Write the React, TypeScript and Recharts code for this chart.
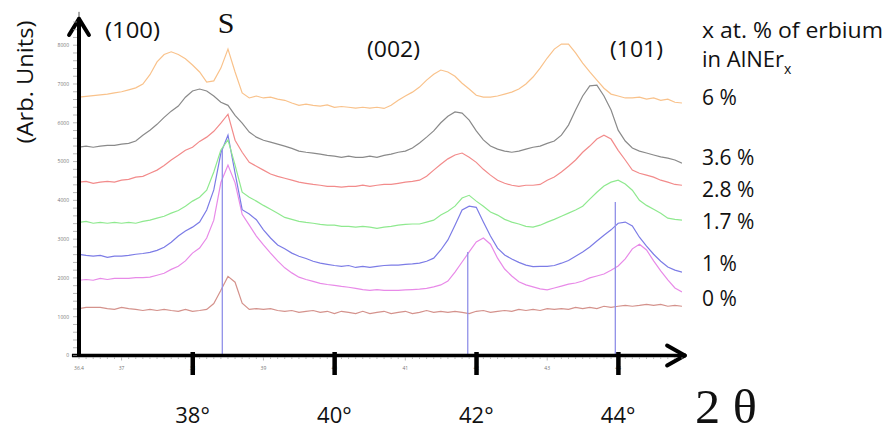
import React from 'react'
import { LineChart, Line, XAxis, YAxis, ReferenceLine } from 'recharts'

// 2θ positions (degrees) sampled every 0.1°
const TWO_THETA = [
  36.4, 36.5, 36.6, 36.7, 36.8, 36.9, 37.0, 37.1, 37.2, 37.3,
  37.4, 37.5, 37.6, 37.7, 37.8, 37.9, 38.0, 38.1, 38.2, 38.3,
  38.4, 38.5, 38.6, 38.7, 38.8, 38.9, 39.0, 39.1, 39.2, 39.3,
  39.4, 39.5, 39.6, 39.7, 39.8, 39.9, 40.0, 40.1, 40.2, 40.3,
  40.4, 40.5, 40.6, 40.7, 40.8, 40.9, 41.0, 41.1, 41.2, 41.3,
  41.4, 41.5, 41.6, 41.7, 41.8, 41.9, 42.0, 42.1, 42.2, 42.3,
  42.4, 42.5, 42.6, 42.7, 42.8, 42.9, 43.0, 43.1, 43.2, 43.3,
  43.4, 43.5, 43.6, 43.7, 43.8, 43.9, 44.0, 44.1, 44.2, 44.3,
  44.4, 44.5, 44.6, 44.7, 44.8, 44.9,
]

// intensities (arb. units), offset per sample as in the original plot
const ER_6 = [
  6660, 6680, 6700, 6720, 6740, 6770, 6800, 6850, 6900, 7000,
  7240, 7570, 7760, 7830, 7760, 7650, 7490, 7310, 7050, 7080,
  7410, 7900, 7310, 6770, 6640, 6690, 6640, 6660, 6610, 6580,
  6510, 6450, 6480, 6450, 6430, 6460, 6400, 6420, 6400, 6380,
  6400, 6380, 6400, 6370, 6450, 6580, 6690, 6790, 6920, 7100,
  7250, 7360, 7310, 7200, 7020, 6870, 6710, 6660, 6660, 6690,
  6740, 6790, 6870, 7000, 7180, 7410, 7670, 7900, 8030, 8030,
  7800, 7540, 7310, 7100, 6890, 6740, 6690, 6640, 6640, 6660,
  6610, 6640, 6580, 6610, 6530, 6510,
]

const ER_3_6 = [
  5370, 5400, 5370, 5400, 5420, 5420, 5450, 5470, 5530, 5680,
  5810, 5960, 6140, 6300, 6430, 6660, 6820, 6870, 6820, 6690,
  6530, 6450, 6190, 5990, 5760, 5630, 5550, 5500, 5450, 5400,
  5340, 5270, 5240, 5220, 5190, 5160, 5140, 5110, 5140, 5110,
  5110, 5140, 5110, 5160, 5190, 5240, 5270, 5350, 5480, 5630,
  5790, 6000, 6170, 6280, 6250, 6070, 5790, 5560, 5400, 5320,
  5270, 5240, 5270, 5320, 5370, 5400, 5470, 5530, 5680, 5940,
  6330, 6690, 6950, 6970, 6690, 6330, 5810, 5530, 5350, 5270,
  5220, 5170, 5120, 5090, 5040, 4960,
]

const ER_2_8 = [
  4470, 4490, 4440, 4470, 4490, 4470, 4520, 4540, 4600, 4620,
  4700, 4780, 4900, 5040, 5160, 5290, 5370, 5520, 5630, 5780,
  5990, 6220, 5550, 5240, 4980, 4880, 4780, 4680, 4620, 4570,
  4520, 4470, 4440, 4410, 4390, 4360, 4360, 4340, 4360, 4360,
  4390, 4360, 4390, 4410, 4410, 4440, 4470, 4490, 4520, 4620,
  4780, 4930, 5070, 5170, 5220, 5110, 4980, 4800, 4650, 4520,
  4440, 4390, 4360, 4390, 4390, 4410, 4520, 4600, 4730, 4880,
  5040, 5240, 5400, 5580, 5680, 5580, 5290, 5040, 4780, 4700,
  4650, 4600, 4520, 4470, 4410, 4390,
]

const ER_1_7 = [
  3430, 3460, 3410, 3430, 3410, 3430, 3410, 3430, 3410, 3460,
  3490, 3540, 3590, 3670, 3740, 3850, 3980, 4080, 4260, 4730,
  5300, 5560, 4910, 4210, 4080, 3980, 3870, 3770, 3670, 3560,
  3510, 3460, 3430, 3410, 3380, 3360, 3360, 3330, 3330, 3310,
  3330, 3310, 3280, 3310, 3330, 3360, 3380, 3390, 3390, 3440,
  3490, 3620, 3720, 3850, 4060, 4130, 3980, 3850, 3700, 3620,
  3510, 3440, 3390, 3330, 3310, 3360, 3440, 3510, 3590, 3670,
  3750, 3850, 4030, 4210, 4370, 4470, 4520, 4420, 4260, 4000,
  3870, 3770, 3670, 3540, 3510, 3490,
]

const ER_1 = [
  2610, 2580, 2560, 2580, 2530, 2560, 2560, 2580, 2610, 2630,
  2660, 2710, 2790, 2920, 3080, 3210, 3310, 3440, 3750, 4270,
  5220, 5680, 4700, 3760, 3650, 3500, 3240, 3030, 2850, 2750,
  2640, 2560, 2500, 2430, 2380, 2350, 2320, 2300, 2320, 2270,
  2300, 2270, 2300, 2320, 2330, 2330, 2350, 2360, 2380, 2430,
  2510, 2720, 2980, 3360, 3750, 3850, 3820, 3440, 3080, 2770,
  2590, 2490, 2400, 2330, 2290, 2300, 2300, 2320, 2380, 2450,
  2560, 2670, 2800, 2950, 3100, 3240, 3410, 3440, 3340, 3050,
  2820, 2610, 2430, 2280, 2200, 2150,
]

const ER_0 = [
  1940, 1960, 1940, 1990, 1960, 1990, 1990, 1990, 2010, 2010,
  2020, 2070, 2120, 2220, 2300, 2440, 2640, 2770, 3030, 3490,
  4460, 4910, 4450, 3640, 3360, 3080, 2850, 2640, 2440, 2260,
  2130, 2020, 1960, 1910, 1860, 1830, 1810, 1780, 1760, 1730,
  1700, 1680, 1700, 1680, 1680, 1680, 1690, 1700, 1710, 1730,
  1770, 1820, 1920, 2150, 2410, 2670, 2930, 3030, 2870, 2510,
  2230, 2050, 1900, 1820, 1770, 1720, 1690, 1740, 1790, 1840,
  1870, 1920, 2000, 2050, 2100, 2200, 2310, 2490, 2750, 2870,
  2720, 2440, 2180, 1950, 1740, 1640,
]

const SUBSTRATE = [
  1210, 1240, 1240, 1240, 1210, 1190, 1240, 1210, 1190, 1160,
  1190, 1160, 1190, 1160, 1140, 1190, 1140, 1160, 1190, 1340,
  1680, 2040, 1890, 1350, 1190, 1210, 1190, 1210, 1160, 1140,
  1160, 1110, 1140, 1160, 1110, 1140, 1080, 1140, 1110, 1080,
  1140, 1080, 1110, 1140, 1080, 1110, 1140, 1080, 1110, 1160,
  1110, 1140, 1110, 1140, 1110, 1080, 1140, 1160, 1110, 1140,
  1160, 1140, 1190, 1160, 1190, 1160, 1210, 1190, 1210, 1190,
  1240, 1210, 1240, 1210, 1270, 1240, 1270, 1290, 1270, 1290,
  1320, 1290, 1320, 1270, 1290, 1270,
]

const SMALL_X_LABELS = [36.4, 37, 38, 39, 40, 41, 42, 43, 44]
const BIG_X_TICKS = [38, 40, 42, 44]
const Y_TICKS = [
  0, 200, 400, 600, 800, 1000, 1200, 1400, 1600, 1800, 2000, 2200, 2400, 2600, 2800,
  3000, 3200, 3400, 3600, 3800, 4000, 4200, 4400, 4600, 4800, 5000, 5200, 5400, 5600,
  5800, 6000, 6200, 6400, 6600, 6800, 7000, 7200, 7400, 7600, 7800, 8000, 8200, 8400, 8600,
]
const Y_LABELS = [0, 1000, 2000, 3000, 4000, 5000, 6000, 7000, 8000]

// peak marker lines: [2θ, top intensity]
const MARKERS: [number, number][] = [
  [38.42, 5300],
  [41.88, 2670],
  [43.96, 3960],
]

const SERIES = [
  { key: 'sub', values: SUBSTRATE, color: '#d4928c' },
  { key: 'er0', values: ER_0, color: '#e88ae8' },
  { key: 'er1', values: ER_1, color: '#7c7ce6' },
  { key: 'er17', values: ER_1_7, color: '#8fe98f' },
  { key: 'er28', values: ER_2_8, color: '#f28b8b' },
  { key: 'er36', values: ER_3_6, color: '#8a8a8a' },
  { key: 'er6', values: ER_6, color: '#f9c28b' },
]

const near = (a: number, b: number) => Math.abs(a - b) < 1e-6
const FONT = '"Open Sans", sans-serif'

const rows = TWO_THETA.map((x, i) => {
  const row: Record<string, number> = { x }
  for (const s of SERIES) row[s.key] = s.values[i]
  return row
})

function XTick(props: any) {
  const { x, y, payload } = props
  const v = payload.value as number
  const isInt = near(v, Math.round(v))
  const small = SMALL_X_LABELS.find((s) => near(s, v))
  const big = BIG_X_TICKS.find((b) => near(b, v))
  return (
    <g>
      <line x1={x} x2={x} y1={y + 1.5} y2={y + (isInt ? 5 : 3.5)} stroke="#9a9a9a" strokeWidth={0.7} />
      {small !== undefined && (
        <text x={x} y={y + 14} textAnchor="middle" fontSize={5} fill="#777" fontFamily={FONT}>
          {small}
        </text>
      )}
      {big !== undefined && (
        <>
          <rect x={x - 2} y={y - 3.5} width={4.5} height={23} fill="#000" />
          <text x={x} y={y + 67.5} textAnchor="middle" fontSize={22} fill="#111" fontFamily={FONT}>
            {big}°
          </text>
        </>
      )}
    </g>
  )
}

function YTick(props: any) {
  const { x, y, payload } = props
  const v = payload.value as number
  const label = Y_LABELS.find((l) => near(l, v))
  return (
    <g>
      <line x1={x - 6} x2={x - 2} y1={y} y2={y} stroke="#9a9a9a" strokeWidth={0.7} />
      {label !== undefined && (
        <text x={x - 10} y={y + 1.8} textAnchor="end" fontSize={5} fill="#777" fontFamily={FONT}>
          {label}
        </text>
      )}
    </g>
  )
}

export default function App() {
  return (
    <div style={{ position: 'absolute', left: 0, top: 0, width: 893, height: 437, background: '#fff' }}>
      <LineChart
        width={893}
        height={437}
        data={rows}
        margin={{ top: 20, right: 211, bottom: 51.5, left: 39 }}
      >
        <XAxis
          dataKey="x"
          type="number"
          domain={[36.4, 44.9]}
          ticks={TWO_THETA}
          interval={0}
          tickSize={0}
          tickMargin={0}
          height={30}
          axisLine={false}
          tickLine={false}
          allowDataOverflow
          tick={(p: any) => <XTick {...p} />}
        />
        <YAxis
          type="number"
          domain={[0, 8650]}
          ticks={Y_TICKS}
          interval={0}
          width={40}
          tickSize={0}
          tickMargin={0}
          tickLine={false}
          axisLine={{ stroke: '#000', strokeWidth: 4 }}
          allowDataOverflow
          tick={(p: any) => <YTick {...p} />}
        />
        {SERIES.map((s) => (
          <Line
            key={s.key}
            dataKey={s.key}
            stroke={s.color}
            strokeWidth={1.2}
            dot={false}
            activeDot={false}
            isAnimationActive={false}
            type="linear"
          />
        ))}
        {MARKERS.map(([x, top]) => (
          <ReferenceLine
            key={x}
            segment={[{ x, y: 0 }, { x, y: top }]}
            stroke="#9090e8"
            strokeWidth={1.3}
            ifOverflow="visible"
          />
        ))}
        {/* axis arrows */}
        <ReferenceLine segment={[{ x: 36.3, y: 0 }, { x: 44.93, y: 0 }]} stroke="#000" strokeWidth={3.5} ifOverflow="visible" />
        <ReferenceLine segment={[{ x: 44.69, y: 258 }, { x: 44.94, y: 0 }]} stroke="#000" strokeWidth={4} strokeLinecap="round" ifOverflow="visible" />
        <ReferenceLine segment={[{ x: 44.69, y: -258 }, { x: 44.94, y: 0 }]} stroke="#000" strokeWidth={4} strokeLinecap="round" ifOverflow="visible" />
        <ReferenceLine segment={[{ x: 36.4, y: 8650 }, { x: 36.4, y: 8860 }]} stroke="#555" strokeWidth={1} ifOverflow="visible" />
        <ReferenceLine segment={[{ x: 36.26, y: 8263 }, { x: 36.4, y: 8680 }]} stroke="#000" strokeWidth={4} strokeLinecap="round" ifOverflow="visible" />
        <ReferenceLine segment={[{ x: 36.54, y: 8263 }, { x: 36.4, y: 8680 }]} stroke="#000" strokeWidth={4} strokeLinecap="round" ifOverflow="visible" />
      </LineChart>

      <svg
        width={893}
        height={437}
        style={{ position: 'absolute', left: 0, top: 0, pointerEvents: 'none' }}
        fontFamily={FONT}
        fill="#111"
      >
        <text transform="translate(33,82) rotate(-90)" textAnchor="middle" fontSize={21} textLength={123} lengthAdjust="spacingAndGlyphs">
          (Arb. Units)
        </text>
        <text x={105} y={38} fontSize={21} textLength={55} lengthAdjust="spacingAndGlyphs">(100)</text>
        <text x={226} y={33} textAnchor="middle" fontSize={30} fontFamily='"Liberation Serif", serif'>S</text>
        <text x={367} y={57} fontSize={21} textLength={53} lengthAdjust="spacingAndGlyphs">(002)</text>
        <text x={610} y={57} fontSize={21} textLength={53} lengthAdjust="spacingAndGlyphs">(101)</text>

        <text x={702} y={38} fontSize={22} textLength={181} lengthAdjust="spacingAndGlyphs">x at. % of erbium</text>
        <text x={702} y={67} fontSize={22}>
          in AlNEr<tspan fontSize={14} dy={7}>x</tspan>
        </text>
        <text x={702} y={105} fontSize={21}>6 %</text>
        <text x={702} y={165} fontSize={21}>3.6 %</text>
        <text x={702} y={197} fontSize={21}>2.8 %</text>
        <text x={702} y={229} fontSize={21}>1.7 %</text>
        <text x={702} y={271} fontSize={21}>1 %</text>
        <text x={702} y={306} fontSize={21}>0 %</text>

        <text x={695} y={423} fontSize={48} fontFamily='"Liberation Serif", serif' textLength={62} lengthAdjust="spacingAndGlyphs">
          2 θ
        </text>
      </svg>
    </div>
  )
}
